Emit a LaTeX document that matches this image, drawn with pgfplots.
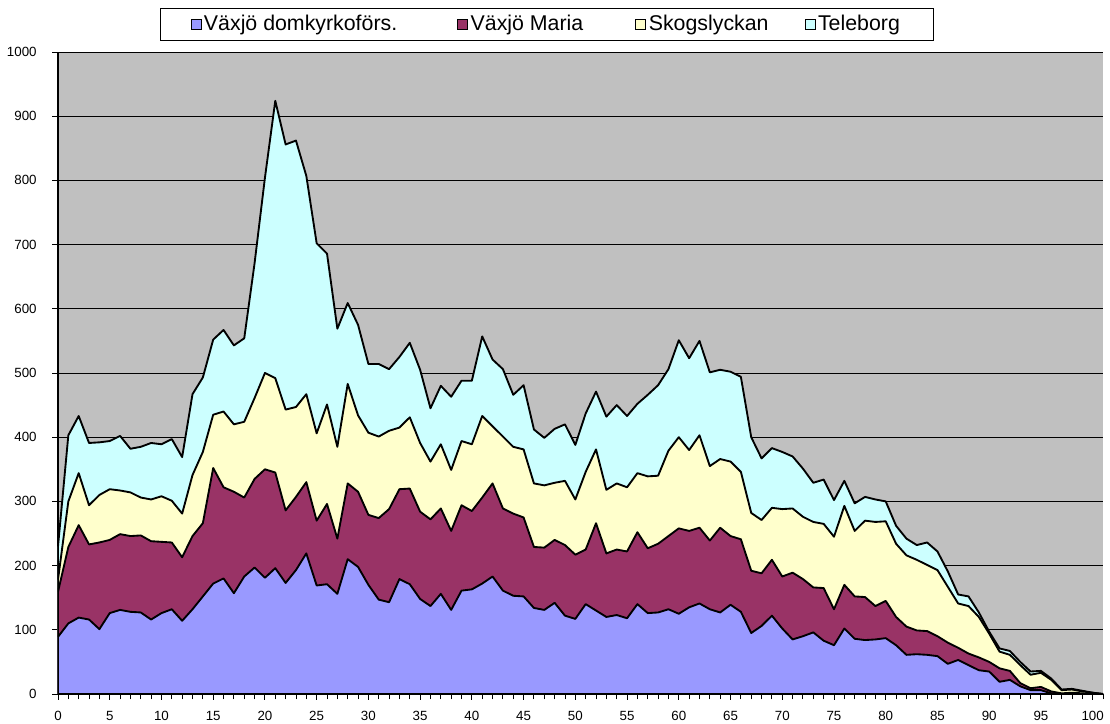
\documentclass[border=0pt]{standalone}
\usepackage{pgfplots}
\pgfplotsset{compat=1.18}
\usepackage{pgfplotstable}
\usepackage{fontspec}
\setmainfont{Liberation Sans}
\definecolor{cB}{HTML}{9999FF}
\definecolor{cM}{HTML}{993366}
\definecolor{cS}{HTML}{FFFFCC}
\definecolor{cT}{HTML}{CCFFFF}
\definecolor{bg}{HTML}{C0C0C0}
% cumulative tops: B = domkyrko, M = +Maria, S = +Skogslyckan, T = +Teleborg
\pgfplotstableread{
age B M S T
0 89 159 178 230
1 110 229 300 403
2 119 263 344 433
3 116 233 294 391
4 101 236 310 392
5 126 240 319 394
6 131 249 317 402
7 128 246 314 382
8 127 247 306 385
9 116 238 303 391
10 126 237 308 389
11 132 236 301 397
12 114 213 281 369
13 132 246 341 467
14 152 266 377 493
15 172 352 435 552
16 180 322 440 567
17 157 315 420 543
18 183 306 424 554
19 197 335 461 671
20 181 350 500 804
21 196 345 492 924
22 173 286 443 856
23 193 307 447 862
24 219 330 467 807
25 169 270 406 702
26 171 296 451 686
27 156 242 385 569
28 210 328 483 609
29 198 315 434 575
30 170 279 407 514
31 147 274 401 514
32 143 288 410 506
33 179 319 415 525
34 171 320 431 547
35 148 284 391 505
36 137 272 362 445
37 156 289 389 480
38 131 254 349 463
39 161 294 394 488
40 163 285 389 488
41 172 306 433 557
42 183 328 417 521
43 161 289 401 506
44 153 281 385 466
45 152 275 381 481
46 134 229 328 412
47 131 228 325 399
48 142 240 329 413
49 122 232 332 420
50 117 217 303 388
51 140 225 346 437
52 130 266 381 471
53 120 219 318 432
54 123 225 328 450
55 118 222 322 433
56 140 252 344 452
57 126 227 339 466
58 127 234 340 481
59 132 246 379 506
60 125 258 400 551
61 135 254 380 523
62 141 259 403 550
63 132 239 355 501
64 127 259 366 505
65 139 246 362 502
66 128 241 346 494
67 95 192 282 400
68 106 188 271 367
69 122 209 290 383
70 102 183 288 377
71 85 189 289 370
72 90 179 276 351
73 96 166 268 329
74 83 165 265 334
75 76 132 245 302
76 102 170 293 332
77 86 152 254 297
78 84 151 270 307
79 85 137 268 303
80 87 145 269 300
81 76 120 234 262
82 61 105 216 242
83 62 99 209 232
84 61 98 201 236
85 59 90 193 222
86 47 80 167 191
87 53 72 141 155
88 45 63 137 152
89 37 57 120 127
90 35 50 94 97
91 19 40 66 71
92 22 36 61 67
93 12 17 45 50
94 6 9 30 35
95 6 11 33 36
96 1 4 22 24
97 0 1 6 7
98 0 2 7 8
99 0 1 4 5
100 0 0 2 2
101 0 0 0 0
}\data
\begin{document}
\begin{tikzpicture}
\begin{axis}[
  scale only axis, width=783.75pt, height=481.5pt,
  xmin=0, xmax=101, ymin=0, ymax=1000,
  axis background/.style={fill=bg},
  axis x line*=bottom, axis y line*=left,
  xtick={0,5,...,100}, minor xtick={0,...,101},
  ytick={0,100,...,1000},
  tick align=outside, major tick length=4.5pt, minor tick length=4pt,
  ymajorgrids, major grid style={black, line width=0.6pt},
  tick style={black, line width=0.7pt},
  axis line style={black, line width=0.8pt},
  ticklabel style={font=\fontsize{10}{11}\selectfont},
  xticklabel style={yshift=-5pt},
  yticklabel style={xshift=-8pt},
  /pgf/number format/assume math mode=true,
  /pgf/number format/1000 sep={},
  legend columns=4,
  legend cell align=left,
  legend style={at={(0.4675,1.0436)}, anchor=center, draw=black, fill=white,
    font=\fontsize{16}{18}\selectfont, inner xsep=23pt, inner ysep=3.5pt,
    /tikz/column 2/.style={column sep=43pt},
    /tikz/column 4/.style={column sep=37pt},
    /tikz/column 6/.style={column sep=25pt}},
  legend image code/.code={\draw[#1, draw=black, line width=0.6pt] (0pt,-3.75pt) rectangle (7.5pt,3.75pt);},
]
\addplot[fill=cT, draw=black, line width=1.4pt, line join=round, forget plot] table[x=age,y=T]{\data} \closedcycle;
\addplot[fill=cS, draw=black, line width=1.4pt, line join=round, forget plot] table[x=age,y=S]{\data} \closedcycle;
\addplot[fill=cM, draw=black, line width=1.4pt, line join=round, forget plot] table[x=age,y=M]{\data} \closedcycle;
\addplot[fill=cB, draw=black, line width=1.4pt, line join=round, forget plot] table[x=age,y=B]{\data} \closedcycle;
\addlegendimage{fill=cB}
\addlegendentry{Växjö domkyrkoförs.}
\addlegendimage{fill=cM}
\addlegendentry{Växjö Maria}
\addlegendimage{fill=cS}
\addlegendentry{Skogslyckan}
\addlegendimage{fill=cT}
\addlegendentry{Teleborg\hspace{37pt}}
\end{axis}
\pgfresetboundingbox
\path[use as bounding box] ([shift={(-43.5pt,-22.5pt)}]current axis.south west) rectangle ([shift={(5.25pt,39pt)}]current axis.north east);
\end{tikzpicture}
\end{document}
